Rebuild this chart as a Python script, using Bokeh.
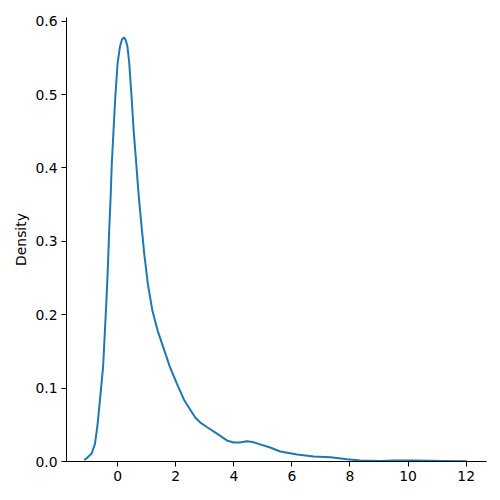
from bokeh.plotting import figure
from bokeh.models import Range1d, FixedTicker
from bokeh.embed import file_html
from bokeh.resources import INLINE

# KDE curve
x_vals = [-1.15, -1.05, -0.90, -0.78, -0.70, -0.61, -0.50, -0.44, -0.38, -0.33,
          -0.29, -0.24, -0.20, -0.14, -0.08, 0.0, 0.08, 0.15, 0.22, 0.28,
          0.34, 0.40, 0.48, 0.55, 0.63, 0.72, 0.83, 0.92, 1.04, 1.20,
          1.38, 1.61, 1.80, 2.04, 2.30, 2.67, 2.85, 3.07, 3.42,
          3.76, 3.99, 4.2, 4.45, 4.65, 4.85, 5.25, 5.6, 6.18, 6.75,
          7.33, 7.9, 8.36, 9.05, 9.5, 10.2, 11.3, 12.03]
density = [0.002, 0.005, 0.0105, 0.024, 0.047, 0.083, 0.129, 0.176, 0.224, 0.270,
           0.315, 0.361, 0.406, 0.452, 0.497, 0.543, 0.565, 0.575, 0.578, 0.574,
           0.565, 0.543, 0.497, 0.452, 0.412, 0.365, 0.318, 0.282, 0.242, 0.205,
           0.178, 0.151, 0.129, 0.106, 0.083, 0.060, 0.053, 0.047, 0.038,
           0.0287, 0.0258, 0.026, 0.0275, 0.0265, 0.024, 0.019, 0.0136, 0.0095, 0.0068,
           0.0059, 0.0031, 0.0014, 0.0007, 0.0015, 0.0013, 0.0008, 0.0003]

x_ticks = [0, 2, 4, 6, 8, 10, 12]
y_ticks = [0.0, 0.1, 0.2, 0.3, 0.4, 0.5, 0.6]
y_tick_labels = {0.0: "0.0", 0.1: "0.1", 0.2: "0.2", 0.3: "0.3", 0.4: "0.4", 0.5: "0.5", 0.6: "0.6"}

p = figure(width=492, height=492, output_backend="svg", toolbar_location=None,
           x_range=Range1d(-1.76, 12.70), y_range=Range1d(0, 0.605),
           min_border_left=66, min_border_top=17, min_border_right=6, min_border_bottom=31)
p.line(x_vals, density, line_color="#1f77b4", line_width=2)

p.outline_line_color = None
p.grid.visible = False
p.background_fill_color = "white"
p.border_fill_color = "white"

for ax in (p.xaxis[0], p.yaxis[0]):
    ax.major_label_text_font = "DejaVu Sans"
    ax.major_label_text_font_size = "13.9px"
    ax.major_label_text_color = "black"
    ax.major_tick_out = 5
    ax.major_tick_in = 0
    ax.minor_tick_out = 0
    ax.minor_tick_in = 0
    ax.axis_line_color = "black"
    ax.axis_line_width = 1
    ax.major_tick_line_color = "black"
    ax.major_label_standoff = 4

p.xaxis.ticker = FixedTicker(ticks=x_ticks)
p.yaxis.ticker = FixedTicker(ticks=y_ticks)
p.yaxis.major_label_overrides = y_tick_labels
p.yaxis.axis_label = "Density"
p.yaxis.axis_label_text_font = "DejaVu Sans"
p.yaxis.axis_label_text_font_size = "13.9px"
p.yaxis.axis_label_text_font_style = "normal"
p.yaxis.axis_label_text_color = "black"
p.yaxis.axis_label_standoff = 3

open("out.html", "w").write(file_html(p, INLINE))
